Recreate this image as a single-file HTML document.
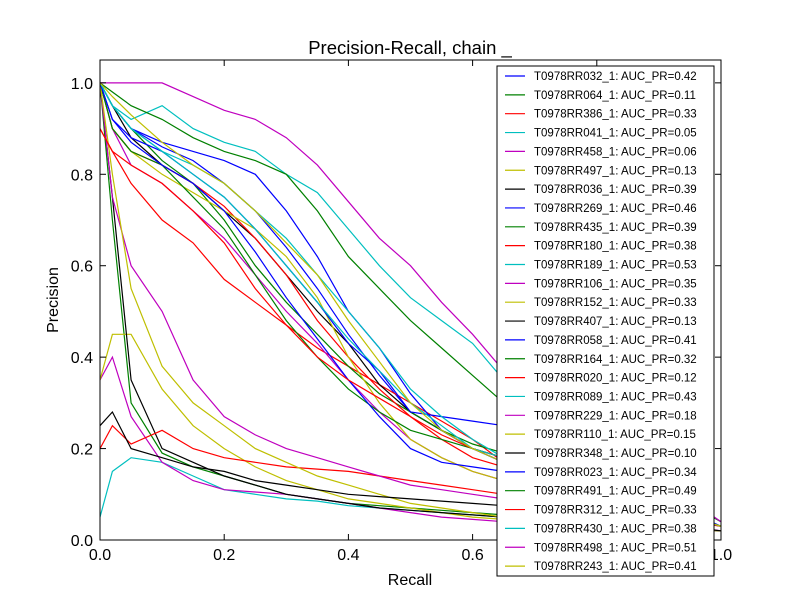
<!DOCTYPE html>
<html><head><meta charset="utf-8"><style>
body{margin:0;background:#fff;}
svg{font-family:"Liberation Sans","DejaVu Sans",sans-serif;}
</style></head><body>
<svg id="chart" width="800" height="600" xmlns="http://www.w3.org/2000/svg">
<rect width="800" height="600" fill="#fff"/>
<text x="410" y="54" font-size="18.5" text-anchor="middle">Precision-Recall, chain _</text>
<text x="410" y="585" font-size="16" text-anchor="middle">Recall</text>
<text x="58" y="300" font-size="16" text-anchor="middle" transform="rotate(-90 58 300)">Precision</text>
<defs><clipPath id="pc"><rect x="100" y="60" width="621" height="480"/></clipPath></defs>
<g id="series" clip-path="url(#pc)"></g>
<g id="axes"></g>
<g id="legend"></g>
</svg>
<script>
const recallGrid=[0,0.02,0.05,0.1,0.15,0.2,0.25,0.3,0.35,0.4,0.45,0.5,0.55,0.6,0.65,1.0];
const names=["T0978RR032_1","T0978RR064_1","T0978RR386_1","T0978RR041_1","T0978RR458_1","T0978RR497_1","T0978RR036_1","T0978RR269_1","T0978RR435_1","T0978RR180_1","T0978RR189_1","T0978RR106_1","T0978RR152_1","T0978RR407_1","T0978RR058_1","T0978RR164_1","T0978RR020_1","T0978RR089_1","T0978RR229_1","T0978RR110_1","T0978RR348_1","T0978RR023_1","T0978RR491_1","T0978RR312_1","T0978RR430_1","T0978RR498_1","T0978RR243_1"];
const aucs=[0.42,0.11,0.33,0.05,0.06,0.13,0.39,0.46,0.39,0.38,0.53,0.35,0.33,0.13,0.41,0.32,0.12,0.43,0.18,0.15,0.10,0.34,0.49,0.33,0.38,0.51,0.41];
const precisions=[
[1,.95,.9,.86,.83,.78,.72,.64,.55,.45,.36,.28,.24,.2,.17,.03],
[1,.7,.3,.19,.16,.14,.12,.1,.09,.08,.075,.07,.065,.06,.055,.02],
[.9,.85,.78,.7,.65,.57,.52,.47,.42,.38,.34,.3,.26,.22,.17,.03],
[.05,.15,.18,.17,.14,.11,.1,.09,.085,.075,.07,.065,.06,.055,.05,.02],
[.35,.4,.27,.17,.13,.11,.105,.1,.09,.08,.07,.06,.05,.045,.04,.02],
[.35,.45,.45,.33,.25,.2,.16,.13,.11,.09,.08,.07,.06,.05,.045,.02],
[1,.95,.88,.82,.78,.72,.66,.58,.5,.43,.34,.28,.24,.2,.18,.03],
[1,.95,.9,.87,.85,.83,.8,.72,.62,.5,.42,.32,.24,.2,.17,.03],
[1,.95,.9,.83,.78,.7,.6,.52,.45,.38,.32,.28,.24,.21,.19,.03],
[1,.9,.85,.82,.78,.73,.66,.58,.48,.4,.33,.27,.22,.18,.16,.03],
[1,.95,.92,.95,.9,.87,.85,.8,.76,.68,.6,.53,.48,.43,.35,.04],
[1,.9,.82,.78,.72,.66,.58,.5,.43,.35,.28,.22,.18,.15,.13,.03],
[1,.9,.85,.8,.76,.72,.68,.62,.53,.4,.3,.22,.18,.15,.13,.03],
[1,.75,.35,.2,.17,.14,.12,.1,.09,.08,.07,.065,.06,.055,.05,.02],
[1,.92,.88,.85,.8,.75,.68,.6,.52,.43,.37,.28,.27,.26,.25,.03],
[1,.9,.85,.82,.75,.68,.58,.48,.4,.33,.28,.24,.22,.2,.18,.03],
[.2,.25,.21,.24,.2,.18,.17,.16,.155,.15,.14,.13,.12,.11,.1,.03],
[1,.95,.9,.85,.82,.78,.72,.66,.58,.5,.42,.33,.27,.22,.18,.03],
[1,.75,.6,.5,.35,.27,.23,.2,.18,.16,.14,.12,.11,.1,.09,.02],
[1,.8,.55,.38,.3,.25,.2,.17,.14,.12,.1,.08,.07,.06,.05,.02],
[.25,.28,.2,.18,.16,.15,.13,.12,.11,.1,.095,.09,.085,.08,.075,.02],
[1,.92,.87,.82,.78,.72,.63,.53,.44,.35,.27,.2,.17,.16,.15,.03],
[1,.98,.95,.92,.88,.85,.83,.8,.72,.62,.55,.48,.42,.36,.3,.04],
[.9,.85,.82,.78,.72,.65,.55,.47,.4,.35,.31,.27,.23,.2,.18,.03],
[1,.95,.9,.85,.8,.75,.68,.6,.52,.44,.37,.3,.25,.2,.18,.03],
[1,1,1,1,.97,.94,.92,.88,.82,.74,.66,.6,.52,.45,.37,.04],
[1,.97,.93,.87,.82,.78,.72,.65,.58,.48,.39,.3,.24,.2,.17,.03]
];
const xTicks=[0,0.2,0.4,0.6,0.8,1.0];
const yTicks=[0,0.2,0.4,0.6,0.8,1.0];
const colors=["#0000ff","#008000","#ff0000","#00bfbf","#bf00bf","#bfbf00","#000000"];
const X0=100,X1=721,Y0=540,Y1=60,YMAX=1.05;
function xs(v){return X0+v*(X1-X0);}
function ys(v){return Y0-v/YMAX*(Y0-Y1);}
const NS="http://www.w3.org/2000/svg";
function mk(t,a){const e=document.createElementNS(NS,t);for(const k in a)e.setAttribute(k,a[k]);return e;}
const sg=document.getElementById('series');
precisions.forEach((p,i)=>{
  const pts=p.map((v,j)=>xs(recallGrid[j]).toFixed(1)+","+ys(v).toFixed(1)).join(" ");
  const pl=mk('polyline',{points:pts,fill:"none",stroke:colors[i%7],"stroke-width":1.2});
  
  
  sg.appendChild(pl);
});
const ax=document.getElementById('axes');
const fr=mk('rect',{x:X0,y:Y1,width:X1-X0,height:Y0-Y1,fill:"none",stroke:"#000","stroke-width":1});


ax.appendChild(fr);
xTicks.forEach(t=>{
  const x=xs(t);
  ax.appendChild(mk('line',{x1:x,y1:Y0,x2:x,y2:Y0-6,stroke:"#000"}));
  ax.appendChild(mk('line',{x1:x,y1:Y1,x2:x,y2:Y1+6,stroke:"#000"}));
  const tx=mk('text',{x:x,y:Y0+20,"font-size":16,"text-anchor":"middle"});
  tx.textContent=t.toFixed(1);
  
  
  ax.appendChild(tx);
});
yTicks.forEach(t=>{
  const y=ys(t);
  ax.appendChild(mk('line',{x1:X0,y1:y,x2:X0+6,y2:y,stroke:"#000"}));
  ax.appendChild(mk('line',{x1:X1,y1:y,x2:X1-6,y2:y,stroke:"#000"}));
  const tx=mk('text',{x:X0-7,y:y+6,"font-size":16,"text-anchor":"end"});
  tx.textContent=t.toFixed(1);
  
  
  ax.appendChild(tx);
});
const lg=document.getElementById('legend');


lg.appendChild(mk('rect',{x:497,y:66,width:217,height:510,fill:"#fff",stroke:"#000","stroke-width":1}));
names.forEach((n,i)=>{
  const y=76+i*18.85;
  const g=mk('g',{});
  
  
  g.appendChild(mk('line',{x1:505,y1:y,x2:525,y2:y,stroke:colors[i%7],"stroke-width":1.2}));
  const t=mk('text',{x:534,y:y+4,"font-size":11.5});
  t.textContent=n+": AUC_PR="+aucs[i].toFixed(2);
  g.appendChild(t);
  lg.appendChild(g);
});
</script>
</body></html>
